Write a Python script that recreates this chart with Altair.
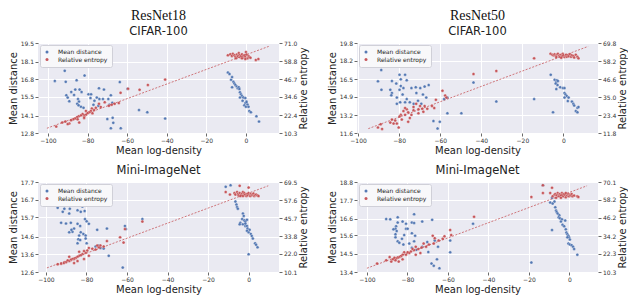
import altair as alt
import pandas as pd

X_TICKS = [-100, -80, -60, -40, -20, 0]
SERIES = ["Mean distance", "Relative entropy"]
COLORS = ["#4C72B0", "#C44E52"]

# ---------------- ResNet18 / CIFAR-100 ----------------
tl_bx = [-96.5, -91.5, -91, -85.5, -81.5, -63.7, -74.2, -71.7, -86.2, -84, -88.2, -83, -90.7, -90, -86.8,
         -84.8, -89.2, -84.3, -85.2, -84.5, -83.3, -82, -79.5, -78.2, -78.5, -76.5, -75.3, -74, -72.2, -69.5,
         -68.2, -67.5, -77, -74.5, -69, -59.8, -54, -49.8, -40.8, -70, -67.3, -67, -68.2, -63.2,
         -9.1, -8.3, -7.5, -7.0, -6.3, -5.8, -7.0, -5.3, -4.6, -4.1, -3.6, -3.3, -3.0, -2.5, -2.0, -1.3, -0.3,
         -3.0, 0.3, -0.3, 0.8, -0.8, 0.0, 1.3, 1.7, 2.5, 5.3, 6.6, -1.7, 0.3]
tl_by = [16.68, 17.43, 16.61, 16.73, 17.08, 16.59, 16.14, 16.03, 16.03, 16.03, 15.86, 15.86, 15.61, 15.44, 15.63,
         15.33, 15.17, 15.14, 14.98, 14.86, 14.75, 14.68, 15.68, 15.68, 15.40, 15.21, 15.44, 15.33, 15.33, 15.33,
         15.61, 15.05, 14.91, 14.82, 14.91, 16.10, 14.51, 14.35, 13.88, 13.84, 13.93, 13.56, 13.16, 13.16,
         17.31, 17.19, 16.77, 16.96, 16.61, 16.49, 16.21, 16.38, 16.26, 16.14, 16.21, 16.07, 15.84, 15.68, 15.56,
         15.45, 15.40, 15.45, 15.14, 15.03, 14.93, 14.86, 14.75, 14.75, 14.44, 14.35, 14.05, 13.65, 15.21, 15.10]
tl_rx = [-40.8, -49.5, -53.7, -59.5, -63.3, -64.2, -66.3, -67.8, -69.2, -71.3, -74.2, -73.3, -75.8, -76.7, -77.8,
         -78.3, -79.2, -80, -80.8, -81.7, -82.5, -83.3, -84.5, -85.3, -86.2, -85, -87.2, -88.3, -89.2, -90, -91.2,
         -92.8, -95.8, -84.2, -81.7, -80.8, -77.5,
         -9.1, -7.9, -7.1, -6.6, -5.8, -5.3, -4.6, -4.1, -3.6, -3.3, -3.0, -2.5, -2.0, -1.7, -1.3, -0.8, -0.3,
         0.0, 0.3, 0.8, 1.3, 1.7, 2.3, -0.3, -2.0, -5.0, 5.0, 6.3]
tl_ry = [46.3, 42.7, 39.5, 40.2, 37.4, 30.5, 30.0, 29.4, 28.6, 31.1, 30.0, 27.9, 27.3, 25.8, 26.9,
         25.2, 24.3, 23.7, 22.6, 21.6, 23.1, 22.2, 21.6, 21.0, 20.1, 19.5, 19.5, 18.9, 16.7, 16.3, 18.0,
         17.4, 14.6, 17.4, 20.5, 25.2, 23.7,
         62.8, 63.4, 62.3, 63.8, 62.8, 61.7, 63.2, 62.1, 64.2, 62.8, 61.5, 62.3, 63.4, 61.1, 62.1, 62.8, 61.7,
         64.9, 63.2, 60.7, 62.3, 61.5, 61.1, 60.2, 60.7, 60.7, 59.6, 60.2]
tl_fit_x = [-100.5, 11.5]
tl_fit_y = [13.5, 68.7]
tl_left_ticks = [12.8, 14.1, 15.5, 16.8, 18.1, 19.5]
tl_right_ticks = [10.3, 22.4, 34.6, 46.7, 58.8, 71.0]
tl_x_domain = [-105, 16.7]

# ---------------- ResNet50 / CIFAR-100 ----------------
tr_bx = [-88.7, -90.3, -88.6, -83.5, -81.4, -79.8, -77.1, -79.2, -76.3, -79.2, -79.8, -77.9, -84.3, -83.5, -83.8,
         -81.1, -78.3, -74.0, -71.9, -69.7, -67.6, -65.6, -71.6, -68.4, -66.8, -76.3, -77.1, -74.8, -72.9, -70.8,
         -69.2, -81.1, -79.5, -58.1, -56.5, -56.5, -49.7, -63.3, -60.2, -61.3, -43.8, -32.7,
         -6.2, -4.3, -3.5, -3.8, -3.2, -2.7, -2.9, -3.5, -1.6, -0.3, 0.5, 0.5, 1.0, 1.6, 2.5, 0.5, 2.1, 4.1,
         4.8, 5.2, 6.8, 7.3, 6.0, 6.8, -14.3, -5.1]
tr_by = [17.34, 16.31, 15.54, 16.34, 16.11, 16.91, 16.91, 16.49, 16.40, 15.89, 15.54, 15.69, 15.54, 15.25, 15.03,
         14.83, 15.11, 15.69, 15.77, 15.69, 15.83, 15.97, 15.25, 15.11, 14.83, 14.69, 14.40, 14.40, 14.26, 14.54,
         14.26, 14.26, 14.40, 14.69, 14.83, 13.40, 13.40, 12.69, 12.63, 12.02, 16.20, 14.48,
         16.91, 16.46, 16.26, 16.11, 16.40, 16.34, 15.97, 15.60, 15.77, 15.69, 15.69, 15.25, 15.11, 14.97, 14.83,
         14.83, 14.51, 14.46, 14.26, 14.11, 13.89, 13.97, 13.60, 13.49, 14.69, 13.49]
tr_rx = [-43.8, -32.7, -58.9, -57.6, -57.0, -62.1, -62.9, -64.0, -66.3, -67.6, -68.7, -69.8, -70.6, -71.7, -73.0,
         -70.6, -74.0, -75.6, -76.3, -77.1, -77.9, -79.2, -79.8, -78.7, -81.9, -83.5, -84.3, -82.7, -81.1, -80.2,
         -75.6, -74.8, -89.0, -90.3, -88.3, -77.1, -73.0, -68.2,
         -6.3, -5.4, -4.8, -4.3, -3.8, -3.2, -2.7, -2.2, -1.9, -1.6, -1.1, -0.6, -0.3, 0.0, 0.5, 1.0, 1.3, 1.6,
         2.1, 2.5, 3.2, 3.7, 4.1, 4.8, 5.2, 6.0, 6.8, 7.3, -3.5, -1.1, -14.3]
tr_ry = [49.8, 51.8, 39.1, 36.0, 34.6, 33.2, 27.9, 29.2, 27.5, 29.2, 27.5, 29.2, 27.1, 30.6, 26.5,
         24.5, 23.5, 25.1, 27.1, 23.5, 25.9, 23.5, 22.5, 20.5, 19.9, 20.5, 18.5, 17.9, 17.9, 15.4,
         19.1, 21.5, 17.5, 15.4, 14.4, 27.9, 28.6, 25.5,
         62.9, 62.3, 61.9, 62.5, 61.5, 62.3, 62.9, 61.5, 61.9, 60.9, 62.3, 61.3, 62.9, 61.9, 60.7, 61.5, 62.3, 60.9,
         61.9, 61.3, 62.5, 60.9, 61.9, 61.5, 60.5, 62.3, 60.9, 59.9, 60.7, 60.3, 59.9]
tr_fit_x = [-95.0, 12.0]
tr_fit_y = [14.6, 67.6]
tr_left_ticks = [11.6, 13.2, 14.9, 16.5, 18.2, 19.8]
tr_right_ticks = [11.8, 23.4, 35.0, 46.6, 58.2, 69.8]
tr_x_domain = [-100.5, 16.8]

# ---------------- ResNet18 / Mini-ImageNet ----------------
bl_bx = [-86.5, -94.2, -90.9, -88.2, -91.7, -88.5, -84.4, -82.0, -82.8, -80.9, -92.5, -90.1, -87.7, -84.4, -83.1,
         -80.7, -79.9, -78.8, -86.1, -86.9, -88.5, -87.4, -82.8, -81.5, -83.6, -84.0, -83.1, -84.4, -80.4, -80.4,
         -74.7, -69.9, -61.0, -60.5, -52.4, -79.9, -75.5, -73.1, -71.5, -69.0, -62.1, -73.9,
         -11.3, -8.9, -6.5, -6.0, -5.7, -5.3, -2.8, -2.4, -3.2, -2.1, -1.6, -0.8, -4.1, -4.4, -2.8, -1.6, -0.8,
         -0.5, 0.5, 0.0, 1.1, 1.6, 2.1, 3.2, 3.7, 4.4, 0.0, -1.6, -0.8]
bl_by = [16.49, 16.24, 16.19, 16.19, 16.01, 15.92, 16.10, 16.31, 16.01, 16.06, 15.39, 15.35, 15.39, 15.33, 15.21,
         15.60, 15.47, 15.33, 15.06, 14.88, 14.85, 14.99, 14.85, 14.76, 14.67, 14.46, 14.41, 14.23, 14.67, 14.50,
         14.99, 15.06, 15.21, 15.03, 15.60, 14.23, 14.05, 13.96, 13.93, 13.52, 12.85, 14.10,
         17.43, 17.52, 16.60, 16.42, 16.28, 16.19, 15.92, 15.78, 15.60, 15.53, 15.47, 15.56, 15.39, 15.30, 15.30,
         15.21, 15.21, 15.06, 14.99, 14.85, 14.76, 14.64, 14.50, 14.23, 14.14, 14.00, 13.61, 15.35, 14.94]
bl_rx = [-52.4, -61.0, -63.4, -61.7, -69.9, -71.5, -73.1, -73.9, -74.7, -75.5, -77.1, -78.8, -79.6, -80.4, -81.2,
         -82.0, -82.8, -83.6, -84.4, -85.3, -86.1, -86.9, -87.7, -88.5, -89.3, -90.1, -91.2, -92.5, -94.2, -88.5,
         -84.4, -81.2, -78.8, -86.1, -83.6,
         -11.3, -9.2, -4.4, 0.0, -7.0, -6.5, -5.7, -5.3, -4.9, -4.4, -3.7, -3.2, -2.8, -2.4, -2.1, -1.6, -1.1,
         -0.8, -0.5, 0.0, 0.5, 0.8, 1.1, 1.6, 2.1, 2.4, 2.8, 3.2, 3.7, 4.4, 4.9, -2.8, -4.1]
bl_ry = [43.4, 38.4, 33.0, 29.5, 30.5, 27.0, 27.6, 26.4, 27.6, 25.0, 25.5, 26.0, 24.3, 22.8, 23.9,
         21.9, 21.2, 20.8, 20.2, 19.3, 18.7, 18.7, 18.1, 17.3, 17.7, 16.6, 16.0, 15.6, 15.2, 20.2,
         17.3, 18.7, 20.8, 16.0, 23.5,
         62.9, 61.2, 67.0, 65.8, 62.2, 61.2, 62.9, 61.6, 60.8, 62.2, 61.2, 61.9, 62.9, 60.8, 62.2, 61.2, 60.2,
         61.6, 60.8, 62.2, 61.2, 60.2, 61.6, 60.8, 61.2, 61.9, 60.2, 60.8, 61.2, 60.6, 60.2, 60.2, 60.2]
bl_fit_x = [-99.5, 9.7]
bl_fit_y = [12.8, 67.0]
bl_left_ticks = [12.6, 13.6, 14.6, 15.7, 16.7, 17.7]
bl_right_ticks = [10.1, 22.0, 33.8, 45.7, 57.6, 69.5]
bl_x_domain = [-103.9, 15.0]

# ---------------- ResNet50 / Mini-ImageNet ----------------
br_bx = [-90.1, -90.5, -88.5, -84.8, -76.7, -67.8, -84.8, -85.6, -85.9, -86.9, -85.3, -82.4, -80.7, -80.7, -79.9,
         -77.8, -76.7, -72.7, -77.8, -76.2, -81.6, -85.9, -84.8, -84.0, -85.9, -82.7, -82.0, -79.1, -76.7, -70.2,
         -66.5, -64.9, -58.9, -58.9, -69.7, -75.6, -68.1, -65.4, -67.0, -64.2, -47.6, -72.7, -77.8,
         -13.1, -8.6, -9.5, -7.4, -8.3, -7.0, -6.6, -6.3, -5.8, -5.0, -5.3, -4.7, -3.7, -4.2, -2.1, -3.4, -2.6,
         -1.8, -1.5, -1.0, -0.5, -0.2, -1.0, 0.2, -0.5, 0.2, 1.1, 1.8, 2.3, 3.9, -8.6, -18.8]
br_by = [17.57, 16.58, 16.56, 16.68, 16.87, 16.53, 16.37, 16.15, 16.00, 15.96, 15.86, 16.43, 16.30, 16.00, 16.00,
         16.37, 16.34, 16.43, 15.73, 15.58, 15.62, 15.48, 15.24, 15.16, 15.67, 15.39, 15.05, 15.11, 15.24, 15.20,
         15.29, 14.92, 15.29, 14.58, 14.60, 14.73, 13.91, 14.16, 13.78, 13.63, 16.30, 14.92, 14.86,
         18.61, 17.85, 17.57, 17.63, 17.51, 17.28, 17.09, 17.00, 16.91, 16.81, 16.68, 16.62, 16.56, 16.43, 16.49,
         16.24, 16.15, 15.96, 15.77, 15.67, 15.58, 15.48, 15.48, 15.35, 15.11, 15.05, 15.01, 14.92, 14.78, 14.44,
         15.92, 13.97]
br_rx = [-47.1, -58.9, -58.4, -67.5, -66.5, -62.6, -61.7, -64.6, -67.0, -69.4, -72.0, -70.8, -73.0, -74.6, -75.9,
         -76.7, -77.5, -78.3, -79.1, -79.9, -80.7, -81.6, -82.4, -83.2, -84.0, -84.8, -85.6, -86.4, -87.2, -85.9,
         -88.0, -88.8, -90.5, -95.0, -84.3, -82.4, -75.9, -73.6,
         -18.8, -13.1, -13.1, -8.6, -9.5, -8.3, -7.4, -7.0, -6.3, -5.8, -5.3, -5.0, -4.7, -4.2, -3.7, -3.4, -3.1,
         -2.6, -2.1, -1.8, -1.5, -1.0, -0.5, -0.2, 0.2, 0.6, 1.1, 1.5, 2.3, 3.9, 4.4, -6.6, -4.2, -1.8]
br_ry = [47.0, 38.2, 34.9, 34.4, 32.8, 32.4, 34.0, 31.3, 29.2, 28.5, 29.2, 27.1, 26.5, 25.6, 27.1,
         25.0, 25.6, 24.0, 22.9, 23.5, 21.8, 23.5, 21.8, 20.8, 20.2, 19.7, 19.3, 19.7, 18.7, 18.1,
         17.2, 20.2, 18.1, 16.0, 17.2, 18.7, 21.8, 22.9,
         60.2, 68.0, 62.8, 66.3, 62.8, 60.7, 61.7, 62.1, 61.3, 62.8, 61.7, 60.7, 62.1, 61.3, 62.8, 61.7, 60.7,
         62.1, 61.3, 60.0, 61.7, 61.1, 62.1, 60.7, 61.7, 61.3, 62.1, 60.7, 61.1, 60.7, 60.2, 59.6, 59.6, 62.8]
br_fit_x = [-100.0, 8.7]
br_fit_y = [12.8, 67.6]
br_left_ticks = [13.4, 14.5, 15.6, 16.6, 17.7, 18.8]
br_right_ticks = [10.3, 22.3, 34.2, 46.2, 58.2, 70.1]
br_x_domain = [-104.9, 14.1]

W = 241
H = 90


def panel(bx, by, rx, ry, fx, fy, xdom, lticks, rticks, title):
    blue = pd.DataFrame({"x": bx, "y": by, "s": SERIES[0]})
    red = pd.DataFrame({"x": rx, "y": ry, "s": SERIES[1]})
    fit = pd.DataFrame({"x": fx, "y": fy})

    xenc = alt.X(
        "x:Q",
        scale=alt.Scale(domain=xdom, nice=False, zero=False),
        axis=alt.Axis(values=X_TICKS, format="d", title="Mean log-density", grid=True),
    )
    color = alt.Color(
        "s:N",
        scale=alt.Scale(domain=SERIES, range=COLORS),
        legend=alt.Legend(
            title=None, orient="top-left", offset=2, padding=4,
            fillColor="#F8F8FA", strokeColor="#D0D0D8", cornerRadius=2,
            labelFontSize=6, labelColor="#222", labelFont="DejaVu Sans",
            symbolSize=9, symbolType="circle", symbolStrokeWidth=0,
            rowPadding=1.5, labelOffset=8,
        ),
    )
    lscale = alt.Scale(domain=[lticks[0], lticks[-1]], nice=False, zero=False)
    laxis = alt.Axis(values=lticks, format=".1f", title="Mean distance", orient="left", grid=True)
    rscale = alt.Scale(domain=[rticks[0], rticks[-1]], nice=False, zero=False)
    raxis = alt.Axis(values=rticks, format=".1f", title="Relative entropy", orient="right",
                     grid=False, titleAngle=270, titleBaseline="top")

    b = alt.Chart(blue).mark_circle(size=9, opacity=0.95, stroke="white", strokeWidth=0.3).encode(
        x=xenc, y=alt.Y("y:Q", scale=lscale, axis=laxis), color=color)
    r = alt.Chart(red).mark_circle(size=9, opacity=0.95, stroke="white", strokeWidth=0.3).encode(
        x=xenc, y=alt.Y("y:Q", scale=rscale, axis=raxis), color=color)
    f = alt.Chart(fit).mark_line(color="#C44E52", strokeWidth=1, strokeDash=[2, 1.5], opacity=0.75).encode(
        x=xenc, y=alt.Y("y:Q", scale=rscale, axis=raxis))

    return alt.layer(b, alt.layer(r, f)).resolve_scale(y="independent").properties(
        width=W, height=H, title=title)


def top_title(model, dataset):
    return alt.TitleParams(
        text=model, subtitle=dataset, font="Liberation Serif", fontSize=14, fontWeight="normal",
        color="#111", subtitleFont="DejaVu Sans", subtitleFontSize=11.5, subtitleColor="#222",
        subtitlePadding=3, offset=3, anchor="middle", frame="group")


def bottom_title(dataset):
    return alt.TitleParams(
        text=dataset, font="DejaVu Sans", fontSize=11.5, fontWeight="normal", color="#222",
        offset=3, anchor="middle", frame="group")


p1 = panel(tl_bx, tl_by, tl_rx, tl_ry, tl_fit_x, tl_fit_y, tl_x_domain, tl_left_ticks, tl_right_ticks,
           top_title("ResNet18", "CIFAR-100"))
p2 = panel(tr_bx, tr_by, tr_rx, tr_ry, tr_fit_x, tr_fit_y, tr_x_domain, tr_left_ticks, tr_right_ticks,
           top_title("ResNet50", "CIFAR-100"))
p3 = panel(bl_bx, bl_by, bl_rx, bl_ry, bl_fit_x, bl_fit_y, bl_x_domain, bl_left_ticks, bl_right_ticks,
           bottom_title("Mini-ImageNet"))
p4 = panel(br_bx, br_by, br_rx, br_ry, br_fit_x, br_fit_y, br_x_domain, br_left_ticks, br_right_ticks,
           bottom_title("Mini-ImageNet"))

chart = alt.concat(p1, p2, p3, p4, columns=2, spacing={"row": 8, "column": 18}).resolve_scale(
    color="independent").resolve_legend(color="independent").properties(padding=0)

chart = chart.configure_view(fill="#EAEAF2", strokeWidth=0).configure_axis(
    domain=False, gridColor="white", gridWidth=1, tickColor="#444", tickSize=3, tickWidth=0.8,
    labelFont="DejaVu Sans", labelFontSize=6, labelColor="#333", labelPadding=1.5,
    titleFont="DejaVu Sans", titleFontSize=10, titleFontWeight="normal", titleColor="#222",
    titlePadding=2,
)

chart.save("out.html", embed_options={"renderer": "svg", "actions": False})
